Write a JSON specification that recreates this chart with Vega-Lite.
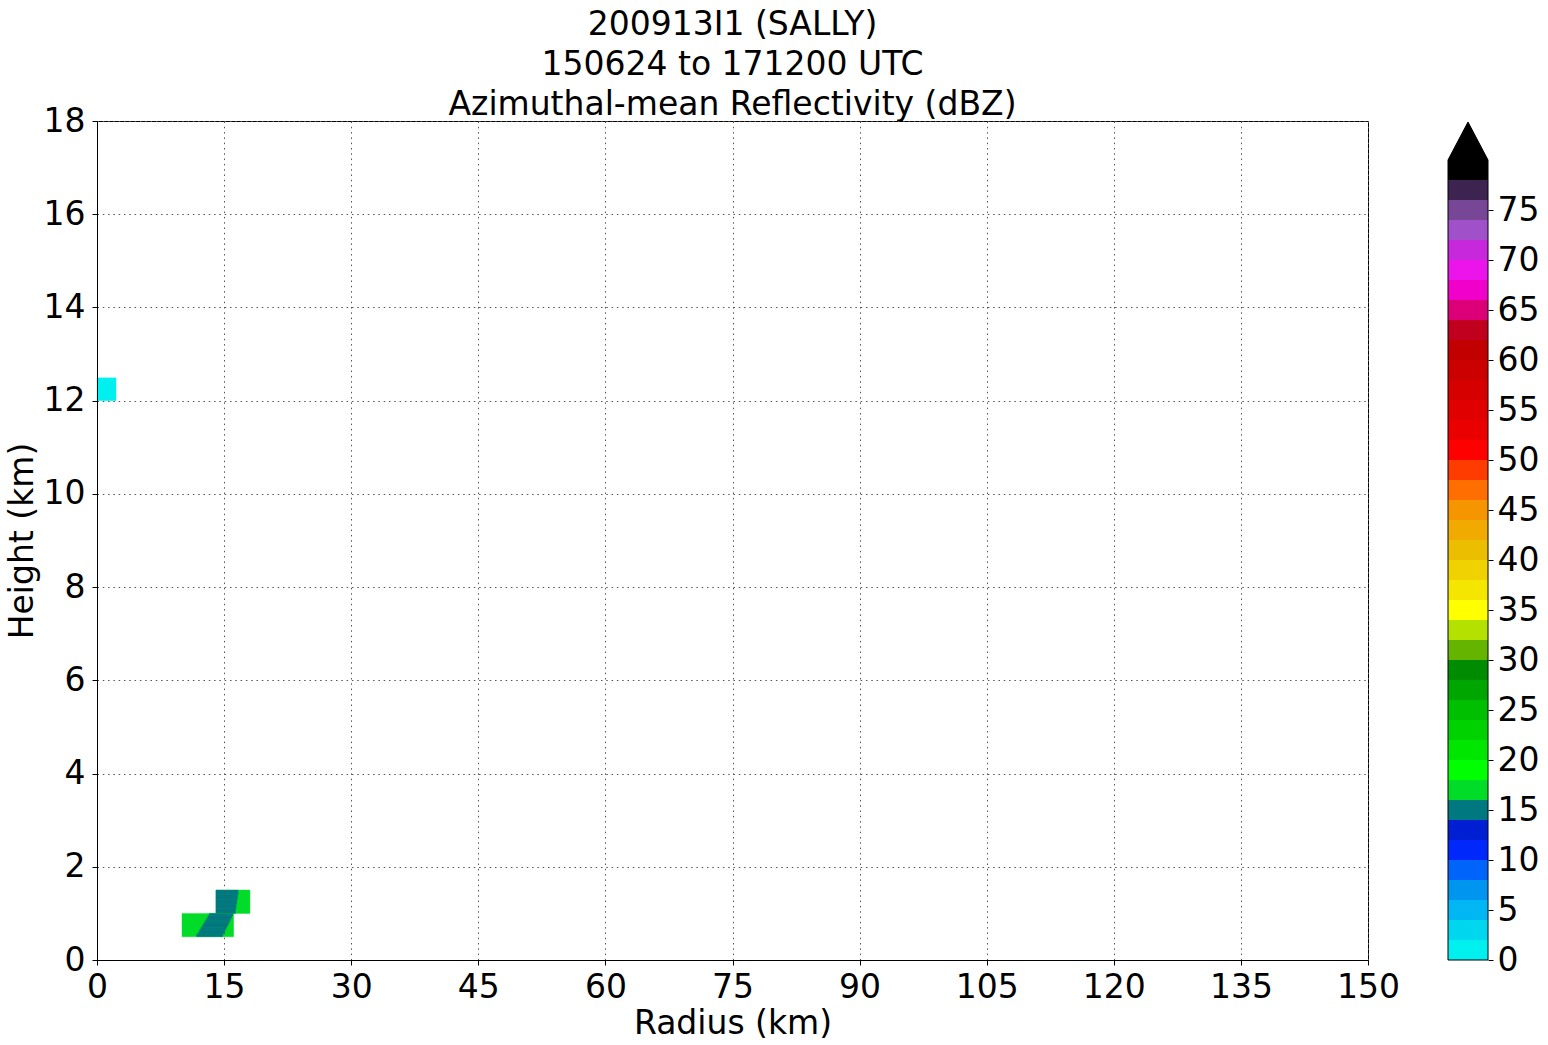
{
  "$schema": "https://vega.github.io/schema/vega-lite/v6.json",
  "background": "white",
  "padding": {"left": 5, "top": 8, "right": 5, "bottom": 2},
  "spacing": 80,
  "bounds": "flush",
  "config": {
    "font": "DejaVu Sans",
    "view": {"stroke": "black", "strokeWidth": 1},
    "axis": {
      "labelFont": "DejaVu Sans",
      "titleFont": "DejaVu Sans",
      "labelFontSize": 33,
      "titleFontSize": 33,
      "titleFontWeight": "normal",
      "labelColor": "black",
      "titleColor": "black",
      "tickColor": "black",
      "domainColor": "black",
      "tickSize": 5,
      "labelFlush": false,
      "labelOverlap": false
    }
  },
  "hconcat": [
    {
      "width": 1271,
      "height": 839,
      "title": {
        "text": ["200913I1 (SALLY)", "150624 to 171200 UTC", "Azimuthal-mean Reflectivity (dBZ)"],
        "font": "DejaVu Sans",
        "fontSize": 33,
        "fontWeight": "normal",
        "color": "black",
        "lineHeight": 40,
        "offset": -17,
        "anchor": "middle"
      },
      "data": {
        "values": [
          {"r0": 0, "r1": 2.24, "h0": 12.0, "h1": 12.49, "dbz": 1},
          {"r0": 10.03, "r1": 16.12, "h0": 0.5, "h1": 1.0, "dbz": 17},
          {"r0": 11.76, "r1": 14.82, "h0": 0.50, "h1": 0.55, "dbz": 15},
          {"r0": 11.93, "r1": 14.95, "h0": 0.55, "h1": 0.60, "dbz": 15},
          {"r0": 12.10, "r1": 15.09, "h0": 0.60, "h1": 0.65, "dbz": 15},
          {"r0": 12.26, "r1": 15.22, "h0": 0.65, "h1": 0.70, "dbz": 15},
          {"r0": 12.43, "r1": 15.36, "h0": 0.70, "h1": 0.75, "dbz": 15},
          {"r0": 12.59, "r1": 15.49, "h0": 0.75, "h1": 0.80, "dbz": 15},
          {"r0": 12.76, "r1": 15.63, "h0": 0.80, "h1": 0.85, "dbz": 15},
          {"r0": 12.93, "r1": 15.77, "h0": 0.85, "h1": 0.90, "dbz": 15},
          {"r0": 13.09, "r1": 15.90, "h0": 0.90, "h1": 0.95, "dbz": 15},
          {"r0": 13.26, "r1": 16.03, "h0": 0.95, "h1": 1.00, "dbz": 15},
          {"r0": 14.04, "r1": 18.05, "h0": 1.0, "h1": 1.5, "dbz": 17},
          {"r0": 14.04, "r1": 16.34, "h0": 1.0, "h1": 1.1, "dbz": 15},
          {"r0": 14.04, "r1": 16.42, "h0": 1.1, "h1": 1.2, "dbz": 15},
          {"r0": 14.04, "r1": 16.50, "h0": 1.2, "h1": 1.3, "dbz": 15},
          {"r0": 14.04, "r1": 16.58, "h0": 1.3, "h1": 1.4, "dbz": 15},
          {"r0": 14.04, "r1": 16.66, "h0": 1.4, "h1": 1.5, "dbz": 15}
        ]
      },
      "mark": {"type": "rect", "strokeWidth": 0.4},
      "encoding": {
        "x": {
          "field": "r0", "type": "quantitative",
          "scale": {"domain": [0, 150], "nice": false, "zero": false},
          "axis": {
            "title": "Radius (km)",
            "values": [0, 15, 30, 45, 60, 75, 90, 105, 120, 135, 150],
            "grid": true, "gridColor": "#555555", "gridDash": [1.5, 3.8], "gridWidth": 1,
            "labelPadding": 6, "titlePadding": 3, "zindex": 1
          }
        },
        "x2": {"field": "r1"},
        "y": {
          "field": "h0", "type": "quantitative",
          "scale": {"domain": [0, 18], "nice": false, "zero": false},
          "axis": {
            "title": "Height (km)",
            "values": [0, 2, 4, 6, 8, 10, 12, 14, 16, 18],
            "grid": true, "gridColor": "#555555", "gridDash": [1.5, 3.8], "gridWidth": 1,
            "labelPadding": 7, "titlePadding": 4, "zindex": 1
          }
        },
        "y2": {"field": "h1"},
        "color": {
          "field": "dbz", "type": "quantitative",
          "scale": {
            "type": "threshold",
            "domain": [2, 4, 6, 8, 10, 12, 14, 16, 18, 20, 22, 24, 26, 28, 30, 32, 34, 36, 38, 40, 42, 44, 46, 48, 50, 52, 54, 56, 58, 60, 62, 64, 66, 68, 70, 72, 74, 76, 78, 80],
            "range": ["#00efef", "#00d7ef", "#00b7f3", "#0096f0", "#0064fa", "#0028fa", "#001ed2", "#007880", "#00dc28", "#00ff00", "#00e600", "#00d200", "#00be00", "#00a600", "#008c00", "#64b400", "#b4e100", "#ffff00", "#f5e600", "#f0d200", "#ebbe00", "#f0aa00", "#f59600", "#ff6e00", "#ff3c00", "#ff0000", "#eb0000", "#e10000", "#d70000", "#cd0000", "#c30000", "#c0001e", "#dc0078", "#f000c8", "#eb14eb", "#c828dc", "#a050c8", "#784696", "#3c2350", "#000000", "#000000"]
          },
          "legend": null
        },
        "stroke": {
          "field": "dbz", "type": "quantitative",
          "scale": {
            "type": "threshold",
            "domain": [2, 4, 6, 8, 10, 12, 14, 16, 18, 20, 22, 24, 26, 28, 30, 32, 34, 36, 38, 40, 42, 44, 46, 48, 50, 52, 54, 56, 58, 60, 62, 64, 66, 68, 70, 72, 74, 76, 78, 80],
            "range": ["#00efef", "#00d7ef", "#00b7f3", "#0096f0", "#0064fa", "#0028fa", "#001ed2", "#007880", "#00dc28", "#00ff00", "#00e600", "#00d200", "#00be00", "#00a600", "#008c00", "#64b400", "#b4e100", "#ffff00", "#f5e600", "#f0d200", "#ebbe00", "#f0aa00", "#f59600", "#ff6e00", "#ff3c00", "#ff0000", "#eb0000", "#e10000", "#d70000", "#cd0000", "#c30000", "#c0001e", "#dc0078", "#f000c8", "#eb14eb", "#c828dc", "#a050c8", "#784696", "#3c2350", "#000000", "#000000"]
          },
          "legend": null
        }
      }
    },
    {
      "width": 40,
      "height": 839,
      "view": {"stroke": null},
      "layer": [
        {
          "data": {
            "values": [
              {"lo": 0, "hi": 2}, {"lo": 2, "hi": 4}, {"lo": 4, "hi": 6}, {"lo": 6, "hi": 8}, {"lo": 8, "hi": 10},
              {"lo": 10, "hi": 12}, {"lo": 12, "hi": 14}, {"lo": 14, "hi": 16}, {"lo": 16, "hi": 18}, {"lo": 18, "hi": 20},
              {"lo": 20, "hi": 22}, {"lo": 22, "hi": 24}, {"lo": 24, "hi": 26}, {"lo": 26, "hi": 28}, {"lo": 28, "hi": 30},
              {"lo": 30, "hi": 32}, {"lo": 32, "hi": 34}, {"lo": 34, "hi": 36}, {"lo": 36, "hi": 38}, {"lo": 38, "hi": 40},
              {"lo": 40, "hi": 42}, {"lo": 42, "hi": 44}, {"lo": 44, "hi": 46}, {"lo": 46, "hi": 48}, {"lo": 48, "hi": 50},
              {"lo": 50, "hi": 52}, {"lo": 52, "hi": 54}, {"lo": 54, "hi": 56}, {"lo": 56, "hi": 58}, {"lo": 58, "hi": 60},
              {"lo": 60, "hi": 62}, {"lo": 62, "hi": 64}, {"lo": 64, "hi": 66}, {"lo": 66, "hi": 68}, {"lo": 68, "hi": 70},
              {"lo": 70, "hi": 72}, {"lo": 72, "hi": 74}, {"lo": 74, "hi": 76}, {"lo": 76, "hi": 78}, {"lo": 78, "hi": 80}
            ]
          },
          "mark": {"type": "rect", "strokeWidth": 0.4},
          "encoding": {
            "y": {
              "field": "lo", "type": "quantitative",
              "scale": {"domain": [0, 83.9], "nice": false, "zero": false},
              "axis": {
                "orient": "right", "title": null,
                "values": [0, 5, 10, 15, 20, 25, 30, 35, 40, 45, 50, 55, 60, 65, 70, 75],
                "grid": false, "domain": false, "labelPadding": 4, "tickSize": 5
              }
            },
            "y2": {"field": "hi"},
            "x": {"datum": 0, "type": "quantitative", "scale": {"domain": [0, 1], "nice": false, "zero": false}, "axis": null},
            "x2": {"datum": 1},
            "color": {
              "field": "lo", "type": "quantitative",
              "scale": {
                "type": "threshold",
                "domain": [2, 4, 6, 8, 10, 12, 14, 16, 18, 20, 22, 24, 26, 28, 30, 32, 34, 36, 38, 40, 42, 44, 46, 48, 50, 52, 54, 56, 58, 60, 62, 64, 66, 68, 70, 72, 74, 76, 78, 80],
                "range": ["#00efef", "#00d7ef", "#00b7f3", "#0096f0", "#0064fa", "#0028fa", "#001ed2", "#007880", "#00dc28", "#00ff00", "#00e600", "#00d200", "#00be00", "#00a600", "#008c00", "#64b400", "#b4e100", "#ffff00", "#f5e600", "#f0d200", "#ebbe00", "#f0aa00", "#f59600", "#ff6e00", "#ff3c00", "#ff0000", "#eb0000", "#e10000", "#d70000", "#cd0000", "#c30000", "#c0001e", "#dc0078", "#f000c8", "#eb14eb", "#c828dc", "#a050c8", "#784696", "#3c2350", "#000000", "#000000"]
              },
              "legend": null
            }
          }
        },
        {
          "data": {"values": [{"ax": 0, "ay": 80}, {"ax": 0.5, "ay": 83.8}, {"ax": 1, "ay": 80}]},
          "mark": {"type": "area", "orient": "vertical", "color": "black", "stroke": "black", "strokeWidth": 1},
          "encoding": {
            "x": {"field": "ax", "type": "quantitative"},
            "y": {"field": "ay", "type": "quantitative"},
            "y2": {"datum": 80}
          }
        },
        {
          "data": {"values": [{"lo": 0, "hi": 80}]},
          "mark": {"type": "rect", "fillOpacity": 0, "stroke": "black", "strokeWidth": 1},
          "encoding": {
            "y": {"field": "lo", "type": "quantitative"},
            "y2": {"field": "hi"},
            "x": {"datum": 0, "type": "quantitative"},
            "x2": {"datum": 1}
          }
        }
      ]
    }
  ]
}
